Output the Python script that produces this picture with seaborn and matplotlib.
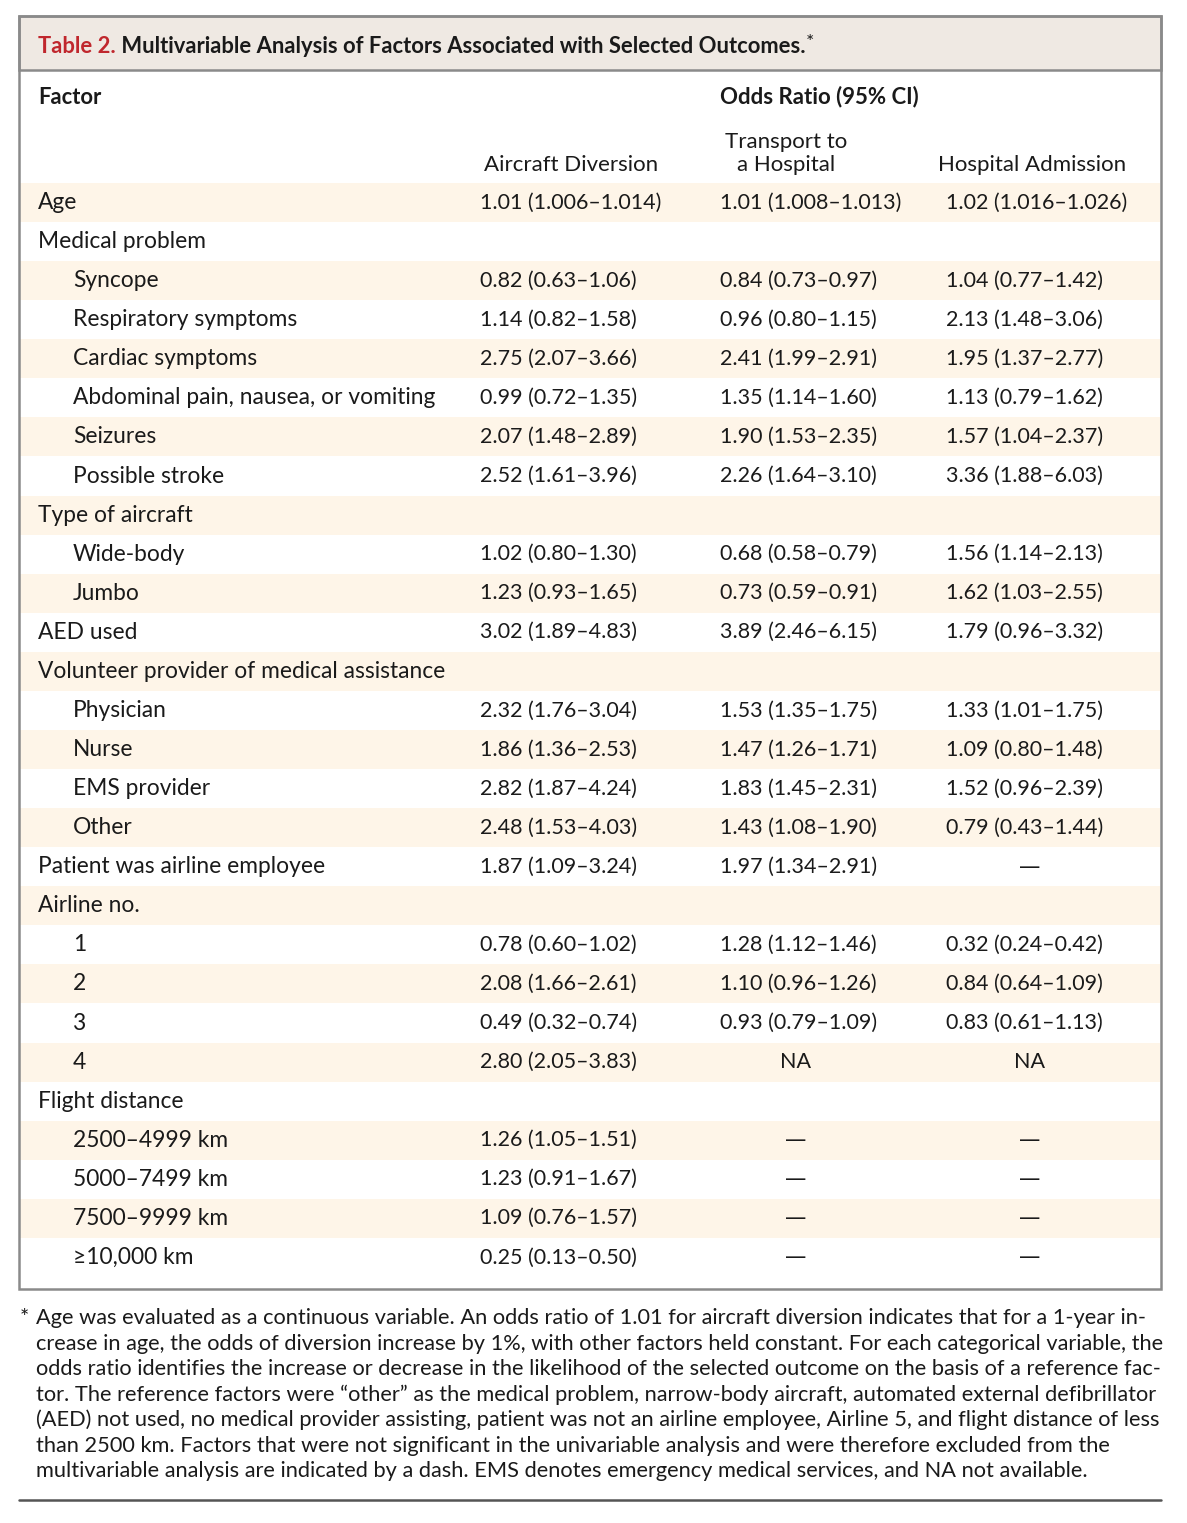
import matplotlib
matplotlib.use("Agg")
import matplotlib.pyplot as plt
from matplotlib.colors import ListedColormap
from matplotlib.patches import Rectangle
import pandas as pd
import seaborn as sns

# table content
factors = ["Age", "Medical problem", "Syncope", "Respiratory symptoms", "Cardiac symptoms",
           "Abdominal pain, nausea, or vomiting", "Seizures", "Possible stroke",
           "Type of aircraft", "Wide-body", "Jumbo", "AED used",
           "Volunteer provider of medical assistance", "Physician", "Nurse", "EMS provider",
           "Other", "Patient was airline employee", "Airline no.", "1", "2", "3", "4",
           "Flight distance", "2500–4999 km", "5000–7499 km", "7500–9999 km", "≥10,000 km"]
indented = [0, 0, 1, 1, 1, 1, 1, 1, 0, 1, 1, 0, 0, 1, 1, 1, 1, 0, 0, 1, 1, 1, 1, 0, 1, 1, 1, 1]
diversion = ["1.01 (1.006–1.014)", "", "0.82 (0.63–1.06)", "1.14 (0.82–1.58)", "2.75 (2.07–3.66)",
             "0.99 (0.72–1.35)", "2.07 (1.48–2.89)", "2.52 (1.61–3.96)", "", "1.02 (0.80–1.30)",
             "1.23 (0.93–1.65)", "3.02 (1.89–4.83)", "", "2.32 (1.76–3.04)", "1.86 (1.36–2.53)",
             "2.82 (1.87–4.24)", "2.48 (1.53–4.03)", "1.87 (1.09–3.24)", "", "0.78 (0.60–1.02)",
             "2.08 (1.66–2.61)", "0.49 (0.32–0.74)", "2.80 (2.05–3.83)", "", "1.26 (1.05–1.51)",
             "1.23 (0.91–1.67)", "1.09 (0.76–1.57)", "0.25 (0.13–0.50)"]
transport = ["1.01 (1.008–1.013)", "", "0.84 (0.73–0.97)", "0.96 (0.80–1.15)", "2.41 (1.99–2.91)",
             "1.35 (1.14–1.60)", "1.90 (1.53–2.35)", "2.26 (1.64–3.10)", "", "0.68 (0.58–0.79)",
             "0.73 (0.59–0.91)", "3.89 (2.46–6.15)", "", "1.53 (1.35–1.75)", "1.47 (1.26–1.71)",
             "1.83 (1.45–2.31)", "1.43 (1.08–1.90)", "1.97 (1.34–2.91)", "", "1.28 (1.12–1.46)",
             "1.10 (0.96–1.26)", "0.93 (0.79–1.09)", "NA", "", "—", "—", "—", "—"]
admission = ["1.02 (1.016–1.026)", "", "1.04 (0.77–1.42)", "2.13 (1.48–3.06)", "1.95 (1.37–2.77)",
             "1.13 (0.79–1.62)", "1.57 (1.04–2.37)", "3.36 (1.88–6.03)", "", "1.56 (1.14–2.13)",
             "1.62 (1.03–2.55)", "1.79 (0.96–3.32)", "", "1.33 (1.01–1.75)", "1.09 (0.80–1.48)",
             "1.52 (0.96–2.39)", "0.79 (0.43–1.44)", "—", "", "0.32 (0.24–0.42)",
             "0.84 (0.64–1.09)", "0.83 (0.61–1.13)", "NA", "", "—", "—", "—", "—"]
col_headers = ["Aircraft Diversion", "Transport to\na Hospital", "Hospital Admission"]

footnote = [
    "Age was evaluated as a continuous variable. An odds ratio of 1.01 for aircraft diversion indicates that for a 1-year in-",
    "crease in age, the odds of diversion increase by 1%, with other factors held constant. For each categorical variable, the",
    "odds ratio identifies the increase or decrease in the likelihood of the selected outcome on the basis of a reference fac-",
    "tor. The reference factors were “other” as the medical problem, narrow-body aircraft, automated external defibrillator",
    "(AED) not used, no medical provider assisting, patient was not an airline employee, Airline 5, and flight distance of less",
    "than 2500 km. Factors that were not significant in the univariable analysis and were therefore excluded from the",
    "multivariable analysis are indicated by a dash. EMS denotes emergency medical services, and NA not available.",
]

sns.set_theme(style="white")
plt.rcParams["font.family"] = ["Lato", "DejaVu Sans"]

W, H = 1187, 1523
TXT = "#1a1a1a"
SHADE = "#fef5e8"
BAND = "#efe9e3"
EDGE = "#8a8a8a"

fig = plt.figure(figsize=(W / 100, H / 100), dpi=100)
fig.patch.set_facecolor("white")

n = len(factors)
row_h = 39.07
body_top = 183
body_bot = body_top + n * row_h

# alternating row shading via seaborn heatmap
shade = pd.DataFrame({"shade": [1 - i % 2 for i in range(n)]}, index=factors)
ax_bg = fig.add_axes([20 / W, 1 - body_bot / H, 1140 / W, (body_bot - body_top) / H])
sns.heatmap(shade, cmap=ListedColormap(["white", SHADE]), cbar=False, ax=ax_bg,
            xticklabels=False, yticklabels=False, vmin=0, vmax=1)
ax_bg.axis("off")

ax = fig.add_axes([0, 0, 1, 1])
ax.set_xlim(0, W)
ax.set_ylim(H, 0)
ax.axis("off")
ax.patch.set_alpha(0)

# frame and title band
ax.add_patch(Rectangle((19, 16), 1142, 1273, fill=False, edgecolor=EDGE, lw=1.8, zorder=3))
ax.add_patch(Rectangle((19, 16), 1142, 54, facecolor=BAND, edgecolor=EDGE, lw=1.8, zorder=2))
ax.plot([19, 1161], [1500, 1500], color="#555555", lw=1.8)

t1 = ax.text(38, 53, "Table 2.", color="#c0272d", fontsize=15.8, fontweight="bold",
             va="baseline", ha="left")
t2 = ax.annotate(" Multivariable Analysis of Factors Associated with Selected Outcomes.",
                 xy=(1, 0), xycoords=t1, va="bottom", ha="left",
                 fontsize=15.8, fontweight="bold", color=TXT)
ax.annotate("*", xy=(1, 0.3), xycoords=t2, va="bottom", ha="left", fontsize=14, color=TXT)

# headers
ax.text(38, 97, "Factor", fontsize=15.8, fontweight="bold", color=TXT, va="center", ha="left")
ax.text(819, 97, "Odds Ratio (95% CI)", fontsize=16, fontweight="bold", color=TXT,
        va="center", ha="center")
head_x = [571, 786, 1032]
for hx, lab in zip(head_x, col_headers):
    ax.text(hx, 171, lab, fontsize=16, color=TXT, va="baseline", ha="center",
            linespacing=1.2)

# body
col_left = [480, 720, 946]
col_mid = [571, 796, 1030]
for i, name in enumerate(factors):
    y = body_top + (i + 0.5) * row_h
    ax.text(73 if indented[i] else 38, y, name, fontsize=16.4, color=TXT, va="center", ha="left")
    for cl, cm, col in zip(col_left, col_mid, [diversion, transport, admission]):
        v = col[i]
        if not v:
            continue
        if "(" in v:
            ax.text(cl, y, v, fontsize=15.5, color=TXT, va="center", ha="left")
        elif v == "—":
            ax.text(cm, y, v, fontsize=15.5, color=TXT, va="center", ha="center",
                    family="DejaVu Sans")
        else:
            ax.text(cm, y, v, fontsize=15.5, color=TXT, va="center", ha="center")

# footnote
ax.text(20, 1318, "*", fontsize=15.7, color=TXT, va="center", ha="left")
for k, line in enumerate(footnote):
    ax.text(36, 1318 + k * 25.5, line, fontsize=15.7, color=TXT, va="center", ha="left")

fig.savefig("out.png", dpi=100, facecolor="white")
